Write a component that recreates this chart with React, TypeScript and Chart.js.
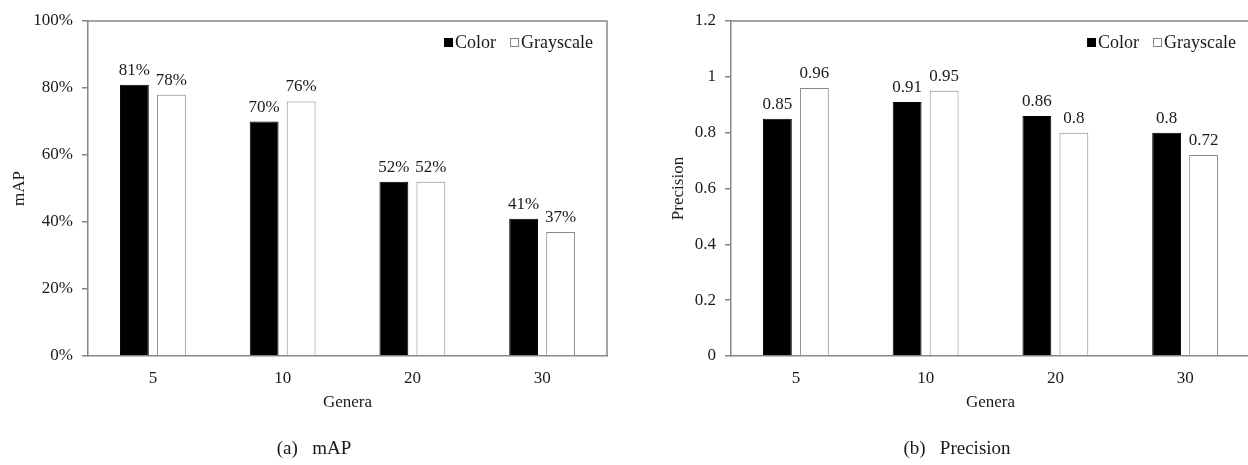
import React, { useEffect, useRef } from 'react';
import { Chart, registerables } from 'chart.js';

Chart.register(...registerables);

const categories = ['5', '10', '20', '30'];
const seriesNames = ['Color', 'Grayscale'];
const mapColor = [81, 70, 52, 41];
const mapGray = [78, 76, 52, 37];
const precColor = [0.85, 0.91, 0.86, 0.8];
const precGray = [0.96, 0.95, 0.8, 0.72];
const xTitle = 'Genera';

const FONT = "'Liberation Serif', 'Times New Roman', serif";
const TEXT = '#1a1a1a';
const AXIS = '#878787';

type PanelProps = {
  colorVals: number[];
  grayVals: number[];
  yMax: number;
  yStep: number;
  yTitle: string;
  yTitlePad: number;
  fmtTick: (v: number) => string;
  fmtLabel: (v: number) => string;
};

function Panel(p: PanelProps) {
  const ref = useRef<HTMLCanvasElement | null>(null);
  useEffect(() => {
    if (!ref.current) return;
    const framePlugin = {
      id: 'frame',
      afterDraw(chart: any) {
        const { ctx, chartArea: a } = chart;
        ctx.save();
        ctx.strokeStyle = AXIS;
        ctx.lineWidth = 1.5;
        ctx.beginPath();
        ctx.moveTo(a.left, a.top);
        ctx.lineTo(a.right, a.top);
        ctx.lineTo(a.right, a.bottom);
        ctx.stroke();
        ctx.restore();
      },
    };
    const labelPlugin = {
      id: 'valueLabels',
      afterDatasetsDraw(chart: any) {
        const { ctx } = chart;
        ctx.save();
        ctx.font = `17px ${FONT}`;
        ctx.fillStyle = TEXT;
        ctx.textAlign = 'center';
        ctx.textBaseline = 'alphabetic';
        chart.data.datasets.forEach((ds: any, di: number) => {
          const meta = chart.getDatasetMeta(di);
          meta.data.forEach((el: any, i: number) => {
            ctx.fillText(p.fmtLabel(ds.data[i]), el.x, el.y - 10);
          });
        });
        ctx.restore();
      },
    };
    const legendPlugin = {
      id: 'insideLegend',
      afterDraw(chart: any) {
        const { ctx, chartArea: a } = chart;
        ctx.save();
        ctx.font = `18px ${FONT}`;
        ctx.textBaseline = 'alphabetic';
        ctx.textAlign = 'left';
        const box = 9;
        const gapBoxText = 2;
        const gapItems = 14;
        const w0 = ctx.measureText(seriesNames[0]).width;
        const w1 = ctx.measureText(seriesNames[1]).width;
        const total = box + gapBoxText + w0 + gapItems + box + gapBoxText + w1;
        let x = a.right - 14 - total;
        const base = a.top + 27;
        ctx.fillStyle = '#000';
        ctx.fillRect(x, base - 10, box, box);
        x += box + gapBoxText;
        ctx.fillStyle = TEXT;
        ctx.fillText(seriesNames[0], x, base);
        x += w0 + gapItems;
        ctx.fillStyle = '#fff';
        ctx.fillRect(x, base - 10, box, box);
        ctx.strokeStyle = AXIS;
        ctx.lineWidth = 1;
        ctx.strokeRect(x + 0.5, base - 9.5, box - 1, box - 1);
        x += box + gapBoxText;
        ctx.fillStyle = TEXT;
        ctx.fillText(seriesNames[1], x, base);
        ctx.restore();
      },
    };
    const chart = new Chart(ref.current, {
      type: 'bar',
      data: {
        labels: categories,
        datasets: [
          {
            label: seriesNames[0],
            data: p.colorVals,
            backgroundColor: '#000000',
            borderColor: '#000000',
            borderWidth: 1,
          },
          {
            label: seriesNames[1],
            data: p.grayVals,
            backgroundColor: '#ffffff',
            borderColor: AXIS,
            borderWidth: 1,
          },
        ],
      },
      options: {
        animation: false,
        responsive: false,
        maintainAspectRatio: false,
        datasets: {
          bar: { categoryPercentage: 0.57, barPercentage: 0.78 },
        },
        layout: { padding: { left: 0, top: 21, right: 17, bottom: 0 } },
        plugins: {
          legend: { display: false },
          tooltip: { enabled: false },
        },
        scales: {
          x: {
            grid: { display: false, drawTicks: false },
            border: { display: true, color: AXIS, width: 1.5 },
            ticks: { color: TEXT, font: { family: FONT, size: 17 }, padding: 12 },
            title: {
              display: true,
              text: xTitle,
              color: TEXT,
              font: { family: FONT, size: 17 },
              padding: { top: 0, bottom: 52 },
            },
            afterFit(scale: any) {
              scale.height = 109;
            },
          },
          y: {
            min: 0,
            max: p.yMax,
            ticks: {
              stepSize: p.yStep,
              color: TEXT,
              font: { family: FONT, size: 17 },
              padding: 9,
              callback: (v: any) => p.fmtTick(Number(v)),
            },
            grid: {
              display: true,
              drawOnChartArea: false,
              drawTicks: true,
              tickLength: 6,
              color: AXIS,
              lineWidth: 1.5,
            },
            border: { display: true, color: AXIS, width: 1.5 },
            title: {
              display: true,
              text: p.yTitle,
              color: TEXT,
              font: { family: FONT, size: 17 },
              padding: { top: p.yTitlePad, bottom: 0 },
            },
            afterFit(scale: any) {
              scale.width = 88;
            },
          },
        },
      },
      plugins: [framePlugin, labelPlugin, legendPlugin],
    } as any);
    return () => chart.destroy();
  }, []);
  return <canvas ref={ref} width={624} height={465} style={{ display: 'block' }} />;
}

export default function App() {
  const captionStyle: React.CSSProperties = {
    position: 'absolute',
    top: 436,
    width: 628,
    textAlign: 'center',
    fontFamily: FONT,
    fontSize: 19,
    color: TEXT,
    whiteSpace: 'pre',
    lineHeight: '24px',
  };
  return (
    <div
      style={{
        position: 'absolute',
        left: 0,
        top: 0,
        width: 1248,
        height: 465,
        overflow: 'hidden',
        background: '#ffffff',
      }}
    >
      <div style={{ position: 'absolute', left: 0, top: 0 }}>
        <Panel
          colorVals={mapColor}
          grayVals={mapGray}
          yMax={100}
          yStep={20}
          yTitle="mAP"
          yTitlePad={9}
          fmtTick={(v) => `${Math.round(v)}%`}
          fmtLabel={(v) => `${v}%`}
        />
      </div>
      <div style={{ position: 'absolute', left: 643, top: 0 }}>
        <Panel
          colorVals={precColor}
          grayVals={precGray}
          yMax={1.2}
          yStep={0.2}
          yTitle="Precision"
          yTitlePad={25}
          fmtTick={(v) => String(Number(v.toFixed(1)))}
          fmtLabel={(v) => String(v)}
        />
      </div>
      <div style={{ ...captionStyle, left: 0 }}>{'(a)   mAP'}</div>
      <div style={{ ...captionStyle, left: 643 }}>{'(b)   Precision'}</div>
    </div>
  );
}
